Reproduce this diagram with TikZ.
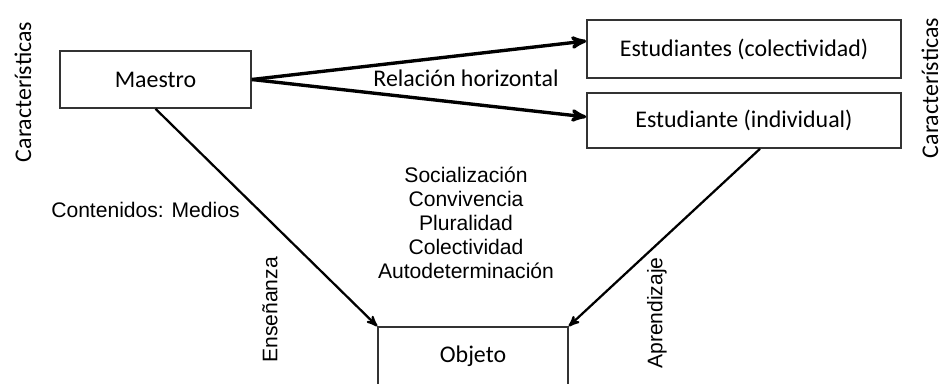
\documentclass[tikz,border=0pt]{standalone}
\usepackage{fontspec}
\setmainfont{Carlito}
\newfontfamily\arialf{Liberation Sans}
\usepackage{xcolor}
\usetikzlibrary{arrows, positioning}

\begin{document}
\begin{tikzpicture}[x=0.025cm, y=-0.025cm,
			>=stealth',
			box/.style={draw=black!80, line width=1.1pt, inner sep=0pt, font=\fontsize{17}{20}\selectfont},
			horiz/.style={->, line width=2.4pt},
			diag/.style={->, line width=1.6pt},
			lbl/.style={font=\arialf\fontsize{15}{17}\selectfont, inner sep=0pt}]
			
			\useasboundingbox (0,0) rectangle (948,383);
			\node[box, minimum width=4.775cm, minimum height=1.425cm] (maestro) at (155.5,79.5) {Maestro};
			\node[box, minimum width=7.85cm, minimum height=1.45cm] (colect) at (744,49) {Estudiantes (colectividad)};
			\node[box, minimum width=7.85cm, minimum height=1.375cm] (indiv) at (744,120.5) {Estudiante (individual)};
			\node[box, minimum width=4.75cm, minimum height=1.45cm] (objeto) at (473,356) {Objeto};
			
			\draw[horiz] (maestro.east) -- ([yshift=0.2cm]colect.west);
			\draw[horiz] (maestro.east) -- ([yshift=0.09cm]indiv.west);
			\draw[diag] (maestro.south) -- (objeto.north west);
			\draw[diag] ([xshift=0.4cm]indiv.south) -- (objeto.north east);
			
			\node[font=\fontsize{17}{20}\selectfont, inner sep=0pt] (relacion) at (466,78) {Relación horizontal};
			\node[lbl, align=center] (valores) at (466,223) {Socialización\\Convivencia\\Pluralidad\\Colectividad\\Autodeterminación};
			\node[lbl] (contenidos) at (145.5,210) {Contenidos: Medios};
			\node[lbl, rotate=90] (ensenanza) at (270,310) {Enseñanza};
			\node[lbl, rotate=90] (aprendizaje) at (657,313) {Aprendizaje};
			\node[font=\fontsize{17}{20}\selectfont, inner sep=0pt, rotate=90] (caracI) at (23,92) {Características};
			\node[font=\fontsize{17}{20}\selectfont, inner sep=0pt, rotate=90] (caracD) at (930,88) {Características};
		\end{tikzpicture}
\end{document}
